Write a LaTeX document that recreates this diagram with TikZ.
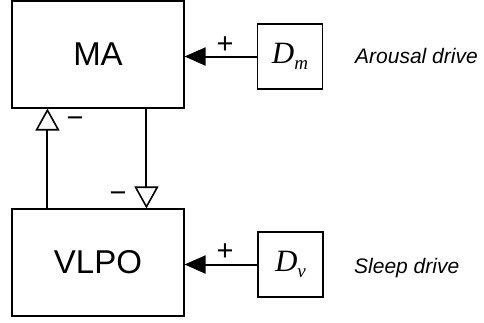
\documentclass[tikz,border=0pt]{standalone}
\usepackage{fontspec}
\setmainfont{Liberation Sans}
\newfontfamily\dserif{Liberation Serif}
\usetikzlibrary{arrows.meta}
\begin{document}
\begin{tikzpicture}[x=1pt,y=-1pt,
  box/.style={draw, line width=1.1pt, minimum width=172pt, minimum height=107pt, inner sep=0pt, font=\fontsize{33}{36}\selectfont},
  dbox/.style={draw, line width=1.1pt, minimum width=65pt, minimum height=65pt, inner sep=0pt, font=\dserif\itshape\fontsize{31}{31}\selectfont},
  posarrow/.style={-{Triangle[length=21pt,width=18pt]}, line width=2pt},
  negarrow/.style={-{Triangle[open,length=22pt,width=24pt,line width=1.6pt]}, line width=2pt},
  signlab/.style={font=\fontsize{29}{29}\selectfont, inner sep=0pt},
  drivelab/.style={font=\fontsize{21}{21}\selectfont\itshape, anchor=base west, inner sep=0pt}]
\useasboundingbox (0,0) rectangle (484,322);
\node[box] (MA) at (98,54.5) {MA};
\node[box] (VLPO) at (98,262.5) {VLPO};
\node[dbox] (Dm) at (290,56.5) {D\raisebox{-6pt}{\fontsize{19}{19}\selectfont m}};
\node[dbox] (Dv) at (290.5,264.5) {D\raisebox{-6pt}{\fontsize{19}{19}\selectfont v}};
\draw[posarrow] (Dm.west) -- (Dm.west -| MA.east);
\draw[posarrow] (Dv.west) -- (Dv.west -| VLPO.east);
\draw[negarrow] ([xshift=36pt]VLPO.north west) -- ([xshift=36pt]MA.south west);
\draw[negarrow] ([xshift=135pt]MA.south west) -- ([xshift=135pt]VLPO.north west);
\node[signlab] (p1) at (225,45) {+};
\node[signlab] (p2) at (225,252) {+};
\node[signlab] (m1) at (75,122) {−};
\node[signlab] (m2) at (118,197) {−};
\node[drivelab] (la) at (355,63) {Arousal drive};
\node[drivelab] (ls) at (354,273) {Sleep drive};
\end{tikzpicture}
\end{document}
